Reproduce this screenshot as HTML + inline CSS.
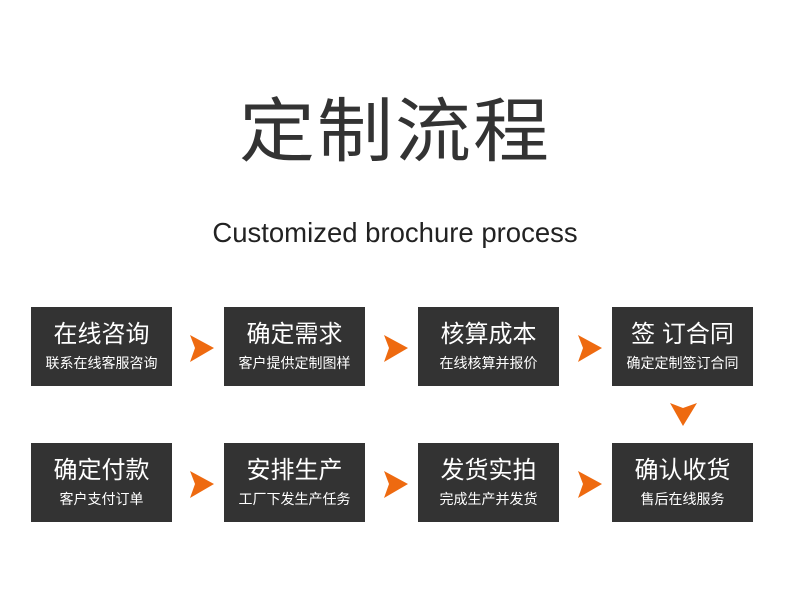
<!DOCTYPE html><html><head><meta charset="utf-8"><style>
body{margin:0;width:790px;height:606px;background:#fff;position:relative;overflow:hidden;font-family:"Liberation Sans","Noto Sans CJK SC",sans-serif}
.t{position:absolute;left:0;width:790px;text-align:center;color:#333}
.b{position:absolute;width:141px;height:79px;background:#333;color:#fff;text-align:center}
.b .m{position:absolute;top:14px;left:0;width:100%;font-size:24px;line-height:28px}
.b .s{position:absolute;top:47px;left:0;width:100%;font-size:14px;line-height:18px}
svg{position:absolute}
</style></head><body>
<div class="t" style="top:80px;font-size:76px;line-height:90px;font-family:'Noto Sans CJK SC',sans-serif;font-weight:400;letter-spacing:2px;transform:scaleY(0.92)">定制流程</div>
<div class="t" style="top:216px;font-size:27.5px;line-height:34px;font-weight:300;color:#222">Customized brochure process</div>

<div class="b" style="left:31px;top:307px"><div class="m">在线咨询</div><div class="s">联系在线客服咨询</div></div>
<div class="b" style="left:224px;top:307px"><div class="m">确定需求</div><div class="s">客户提供定制图样</div></div>
<div class="b" style="left:418px;top:307px"><div class="m">核算成本</div><div class="s">在线核算并报价</div></div>
<div class="b" style="left:612px;top:307px"><div class="m">签 订合同</div><div class="s">确定定制签订合同</div></div>
<div class="b" style="left:31px;top:443px"><div class="m">确定付款</div><div class="s">客户支付订单</div></div>
<div class="b" style="left:224px;top:443px"><div class="m">安排生产</div><div class="s">工厂下发生产任务</div></div>
<div class="b" style="left:418px;top:443px"><div class="m">发货实拍</div><div class="s">完成生产并发货</div></div>
<div class="b" style="left:612px;top:443px"><div class="m">确认收货</div><div class="s">售后在线服务</div></div>

<svg width="790" height="606" style="left:0;top:0">
<g fill="#ee6a10">
<polygon points="190,335 214,348 190,362 195,348"/>
<polygon points="384,335 408,348 384,362 389,348"/>
<polygon points="578,335 602,348 578,362 583,348"/>
<polygon points="190,471 214,484 190,498 195,484"/>
<polygon points="384,471 408,484 384,498 389,484"/>
<polygon points="578,471 602,484 578,498 583,484"/>
<polygon points="670,403 683,408 697,403 683,426"/>
</g></svg>
</body></html>
